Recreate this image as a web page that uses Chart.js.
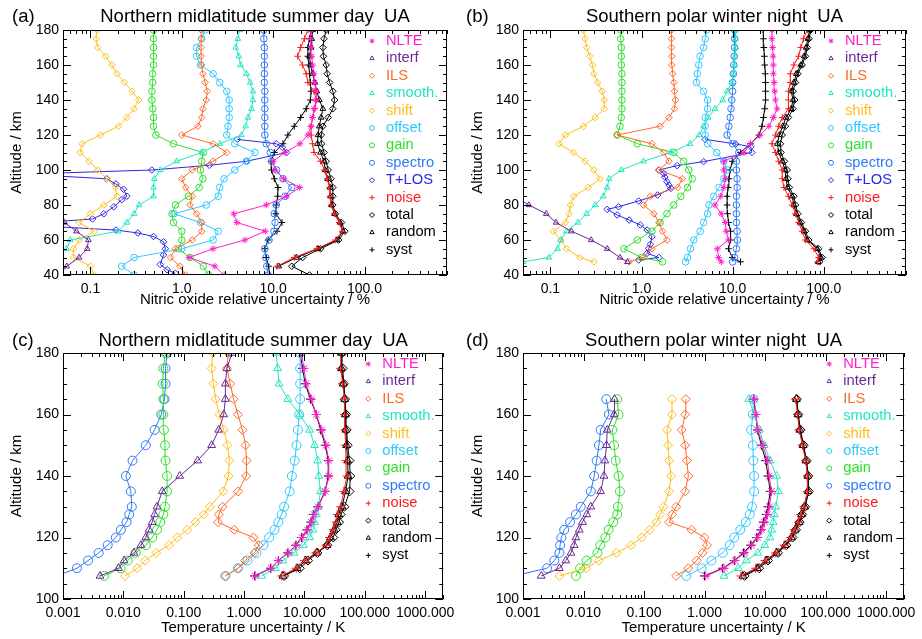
<!DOCTYPE html>
<html>
<head>
<meta charset="utf-8">
<script src="https://cdn.jsdelivr.net/npm/chart.js@4.4.0/dist/chart.umd.min.js"></script>
<style>
  body { margin: 0; background: #fff; width: 922px; height: 639px; overflow: hidden; position: relative; }
  canvas { position: absolute; }
</style>
</head>
<body>
<canvas id="pa" width="461" height="320" style="left:0;top:0"></canvas>
<canvas id="pb" width="461" height="320" style="left:461px;top:0"></canvas>
<canvas id="pc" width="461" height="319" style="left:0;top:320px"></canvas>
<canvas id="pd" width="461" height="319" style="left:461px;top:320px"></canvas>
<script>
// ---- data ----
// NO panels: altitude grid in km
const altA = [40,45,50,55,60,65,70,75,80,85,90,95,100,105,110,115,120,125,130,135,140,145,150,155,160,165,170,175,180];
const altB = [47.5,50,55,60,65,70,75,80,85,90,95,100,105,110,115,120,125,130,135,140,145,150,155,160,165,170,175,180];
// T+LOS has its own (finer) altitude points
const altTlosA = [41,43,46,51.5,55,59,62,64,65.7,68,70,72,75,79,83,85,89,92,95,97,98,100,102.7,105,110,113,115,117.5];
const altTlosB = [48.6,50,52.4,55.2,57.5,61.9,65.7,68.6,71.4,74.3,77.5,79,82.3,85.7,89.5,91.4,93.3,96,98,100,102.5,104.8,110,113.3,114.9,117.5];
// temperature panels
const altC = [107.5,110,112.5,115,117.5,120,122.5,125,127.5,130,135,140,145,150,155,160,165,170,175,180];
const altD = [107.5,110,112.5,115,117.5,120,122.5,125,127.5,130,135,140,145,150,155,160,165];

// (a) Northern midlatitude summer day, NO relative uncertainty (%)
const nlteA    = [2.9,2.3,1.2,2.2,4.9,8.2,4.0,3.7,8.4,14,19.5,13,10.5,10,13.4,19.6,24,26,27,28,29.5,29.6,28.5,28,27,26.5,26,25.5,26];
const interfA  = [0.045,0.055,0.075,0.092,0.095,0.07,0.052,0.02,0.02,0.02,0.02,0.02,0.02,0.02,0.02,0.02,0.02,0.02,0.02,0.02,0.02,0.02,0.02,0.02,0.02,0.02,0.02,0.02,0.02];
const ilsA     = [1.1,0.95,0.75,0.85,1.3,1.65,1.65,1.45,1.23,1.3,1.1,1.0,1.3,2.2,3.1,2.2,1.0,1.5,1.65,1.7,1.85,1.9,1.8,1.7,1.65,1.63,1.62,1.63,1.63];
const smoothA  = [0.04,0.04,0.04,0.055,0.06,0.2,0.25,0.3,0.34,0.49,0.49,0.5,0.58,0.88,1.65,2.6,4.5,5.0,5.3,5.8,6.0,6.0,5.6,5.1,4.4,4.2,3.9,4.1,4.3];
const shiftA   = [0.11,0.1,0.065,0.065,0.075,0.11,0.075,0.1,0.14,0.195,0.187,0.152,0.12,0.096,0.077,0.081,0.128,0.203,0.25,0.3,0.337,0.285,0.235,0.195,0.172,0.146,0.12,0.115,0.118];
const offsetA  = [0.3,0.22,0.3,1.0,2.2,2.5,1.6,0.82,1.85,2.5,2.6,2.9,3.8,5.1,6.3,3.8,3.1,3.2,3.3,3.3,3.3,3.1,2.6,2.2,1.6,1.45,1.45,1.65,1.8];
const gainA    = [1.95,1.72,1.23,0.92,1.0,1.0,0.81,0.78,0.85,1.18,1.55,1.7,1.6,1.65,1.72,0.81,0.52,0.49,0.49,0.48,0.47,0.47,0.48,0.48,0.49,0.49,0.49,0.49,0.49];
const spectroA = [8.8,8.5,8.3,8.1,9.0,10.2,10.5,10.3,10.8,13.5,16,12.8,10.9,9.6,9.3,8.4,8.1,8.1,8.1,8.1,8.1,8.1,8.0,8.0,8.0,8.0,8.0,7.9,7.9];
const tlosA    = [0.85,0.69,0.58,0.63,0.66,0.63,0.49,0.33,0.19,0.03,0.03,0.105,0.14,0.18,0.22,0.25,0.23,0.19,0.15,0.03,0.03,0.47,2.0,5.1,14,12.6,10.8,4.05];
const noiseA   = [null,11,17,30,48,57,53,47,43,42,41.5,39,36.6,33,28,27,26,26,27,28.5,29.7,28,24,23,21,18.5,20,22,24];
const totalA   = [25,16,21,33,52,61,56,48,45,45,45,43,40,38,36,34,33.6,35,40,45,47,45,41.5,39,38,35.5,35,36,38];
const randomA  = [null,11.5,18,31,50,58,54,47,43.5,42.5,42,39.5,37,36,33,30.5,31,32,33.5,35,32,30,28.5,27,25.6,25,26,26.5,27];
const systA    = [9.2,8.9,8.4,8.1,8.8,11,12.5,10.7,10.8,11.2,11.3,10.3,9.6,9.5,10.3,12.8,14.5,17,20,23,25.6,26,25.5,25,24.5,24,24,25,26];

// (b) Southern polar winter night, NO relative uncertainty (%)
const nlteB    = [7.5,7.0,6.8,9.0,8.5,8.3,7.5,6.4,7.4,8.0,8.3,8.0,8.0,13.3,15.7,20,25,28,30.8,29.5,29,28.5,28,28,27.8,27.5,27,27];
const interfB  = [0.7,0.58,0.42,0.28,0.17,0.115,0.09,0.058,0.04,0.02,0.02,0.02,0.02,0.02,0.02,0.02,0.02,0.02,0.02,0.02,0.02,0.02,0.02,0.02,0.02,0.02,0.02,0.02];
const ilsB     = [0.73,1.05,1.3,1.9,1.7,1.55,1.37,1.05,1.25,2.5,2.8,1.55,2.0,1.75,1.3,0.54,1.6,2.0,2.3,2.36,2.3,2.26,2.2,2.15,2.15,2.13,2.13,2.13];
const smoothB  = [0.05,0.096,0.12,0.13,0.15,0.2,0.25,0.31,0.38,0.42,0.44,0.6,1.05,2.1,3.4,4.3,4.8,5.4,6.4,7.8,8.7,9.8,10.2,10.5,10.6,10.8,10.8,10.7];
const shiftB   = [0.3,0.21,0.15,0.13,0.108,0.146,0.16,0.166,0.18,0.26,0.35,0.3,0.24,0.18,0.124,0.146,0.23,0.31,0.39,0.39,0.37,0.33,0.3,0.29,0.27,0.25,0.24,0.23];
const offsetB  = [3.05,3.2,3.45,3.75,4.4,4.8,5.3,5.5,6.2,7.1,8.0,8.7,8.0,6.7,5.3,5.0,5.0,5.0,5.3,5.3,4.8,4.0,4.1,4.25,4.4,4.8,5.0,5.2];
const gainB    = [1.7,1.0,0.64,0.9,1.3,1.6,1.9,2.26,2.7,3.2,3.6,3.3,2.9,2.26,0.9,0.54,0.58,0.6,0.61,0.61,0.61,0.61,0.61,0.6,0.6,0.6,0.59,0.59];
const spectroB = [10,10.5,11,11.3,11.2,11,11,11,11,11.2,11.2,11,11,11.7,10,8.7,9.1,9.4,9.6,9.8,10,10,10.2,10.3,10.4,10.5,10.5,10.5];
const tlosB    = [0.93,1.55,1.15,1.2,1.25,1.3,1.15,0.97,0.73,0.54,0.42,0.56,0.93,1.5,2.1,2.0,1.9,1.8,1.76,1.55,2.46,4.8,16.3,15.8,10.8,5.0];
const noiseB   = [85,88,78,63,58,53,49,45,41,36.6,35,35,32,29.5,27,29.5,32,35,41,41,41,43,43,47,53,56,60,66];
const totalB   = [90,96,88,68.5,63,57,52,49,47,42,40.5,39.8,37,34,33.5,35,38,41,46,48,46,49,52,58,63,66,69,72];
const randomB  = [87,93,85,66,61,55,50,47,45,40,38.5,37.5,35,32,31,32.5,35.5,38.5,44,46,44,47,50,56,61,64,67,70];
const systB    = [12.2,9.9,9.0,9.5,9.5,9.0,8.8,8.7,8.7,8.9,9.1,9.4,9.9,12.2,15.7,19.5,21,21.8,22.5,23,23,23,22.8,22.5,22.3,22,21.8,21.6];

// (c) Northern midlatitude summer day, temperature uncertainty (K)
const nlteC    = [1.53,2.8,3.7,5.4,7.3,9.2,11.2,13,14.4,17,22.2,25.3,25.3,22.8,19.3,15.7,13,10.7,9.8,8.9];
const interfC  = [0.0041,0.0083,0.0103,0.015,0.0195,0.0235,0.0266,0.03,0.033,0.036,0.044,0.086,0.17,0.29,0.38,0.46,0.49,0.49,0.52,0.63];
const ilsC     = [0.49,0.8,1.04,1.48,1.75,1.43,0.69,0.37,0.38,0.44,0.8,1.08,1.1,1.06,0.94,0.79,0.67,0.59,0.52,0.55];
const smoothC  = [1.95,3.3,4.4,6.7,9.6,12.2,13.8,14.7,15.8,17.0,18.4,17.3,16.6,14.7,12.2,8.4,5.3,3.8,3.6,3.4];
const shiftC   = [0.0107,0.017,0.023,0.035,0.057,0.078,0.114,0.157,0.215,0.27,0.45,0.55,0.57,0.53,0.46,0.39,0.34,0.31,0.29,0.30];
const offsetC  = [0.49,0.79,1.14,1.6,2.1,2.6,3.2,3.7,4.2,4.6,5.7,6.2,6.9,7.4,7.8,8.2,8.5,8.5,8.5,8.5];
const gainC    = [0.0048,0.009,0.0118,0.016,0.0235,0.03,0.036,0.041,0.046,0.049,0.053,0.053,0.05,0.049,0.047,0.046,0.046,0.045,0.046,0.05];
const spectroC = [0.00078,0.0017,0.0026,0.0039,0.0055,0.0075,0.0091,0.0113,0.0125,0.0138,0.0133,0.011,0.0142,0.0235,0.033,0.0425,0.048,0.05,0.05,0.053];
const noiseC   = [4.2,7.3,10,15.6,23,26,30,33.5,35,40,45,50.7,49,48,47,46,46,43,40,40];
const totalC   = [4.6,8.4,11.5,16.4,24,30,33,37.5,40,46,56,57.5,55.7,52,50,49,47,45,43,42];
const randomC  = [4.4,7.6,10.5,16,23.5,27,31,35,37,42,48,53,52,50,48.5,47.5,46.5,44,41,41];
const systC    = [1.5,2.75,3.7,5.3,7.2,9.0,11,12.8,14,16.6,22,24.8,24.8,22.2,18.6,15.7,12.6,10.3,9.3,8.5];

// (d) Southern polar winter night, temperature uncertainty (K)
const nlteD    = [1.05,2.1,3.2,4.6,6.0,7.6,8.8,9.8,11,11.8,12.8,11.7,11,9.2,7.6,7.1,6.6];
const interfD  = [0.002,0.004,0.0051,0.0062,0.007,0.0075,0.0085,0.0096,0.0113,0.0132,0.0192,0.0218,0.0226,0.024,0.0247,0.032,0.0325];
const ilsD     = [0.34,0.54,0.74,0.93,1.1,1.0,0.61,0.26,0.29,0.34,0.48,0.54,0.51,0.48,0.42,0.48,0.49];
const smoothD  = [2.1,3.6,4.9,7.6,9.9,12.1,12.9,13.6,14.2,15,16.7,15.5,12.1,9.7,8.1,6.6,5.4];
const shiftD   = [0.004,0.011,0.018,0.035,0.061,0.092,0.124,0.16,0.185,0.21,0.26,0.28,0.26,0.25,0.24,0.29,0.29];
const offsetD  = [0.5,0.9,1.3,2.0,2.6,3.1,3.9,4.8,5.6,6.1,6.6,6.6,6.4,6.3,5.9,6.3,6.4];
const gainD    = [0.0075,0.0088,0.0113,0.017,0.019,0.023,0.026,0.031,0.036,0.037,0.04,0.038,0.034,0.032,0.03,0.038,0.036];
const spectroD = [0.0007,0.0025,0.0033,0.004,0.0041,0.0043,0.0048,0.006,0.0075,0.009,0.0132,0.015,0.0165,0.018,0.0192,0.0263,0.0238];
const noiseD   = [4.0,7.0,10,15,20.6,26.6,30.5,35.5,39,44,50,50,47,41.5,36.6,34.5,32];
const totalD   = [4.6,8.0,11.2,16.4,22.5,28.5,32.5,37.5,41,46,53,52,48.5,43.5,38.5,35.5,33.5];
const randomD  = [4.3,7.5,10.5,15.5,21.5,27.5,31.5,36.5,40,45,51.5,51,47.5,42.5,37.5,35,33];
const systD    = [1.0,2.0,3.1,4.4,5.8,7.3,8.5,9.4,10.5,11.2,12.2,11.2,10.3,8.7,7.5,7.0,6.5];

// tick labels
const noTicks = [0.1, 1, 10, 100];
const noTickLabels = ['0.1', '1.0', '10.0', '100.0'];
const tTicks = [0.001, 0.01, 0.1, 1, 10, 100, 1000];
const tTickLabels = ['0.001', '0.010', '0.100', '1.000', '10.000', '100.000', '1000.000'];

// series names / styles (legend order)
const names   = ['NLTE','interf','ILS','smooth.','shift','offset','gain','spectro','T+LOS','noise','total','random','syst'];
const colors  = ['#ff1ecb','#6a2896','#ff6a26','#22e6be','#ffbd1c','#30c8ff','#2ee02e','#2f7af7','#2b28e6','#ff1a1a','#000000','#000000','#000000'];
const markers = ['star','triangle','rectRot','triangle','rectRot','circle','circle','circle','rectRot','cross','rectRot','triangle','cross'];

const FONT = '"Liberation Sans", Arial, Helvetica, sans-serif';
Chart.defaults.font.family = FONT;
Chart.defaults.color = '#000';

const panels = [
  { id: 'pa', tag: '(a)', tagX: 12, titleY: 21.7, title: 'Northern midlatitude summer day  UA',
    alt: altA, altOverride: { 8: altTlosA },
    series: [nlteA, interfA, ilsA, smoothA, shiftA, offsetA, gainA, spectroA, tlosA, noiseA, totalA, randomA, systA],
    xMin: 0.05, xMax: 800, ticks: noTicks, labels: noTickLabels, xTitle: 'Nitric oxide relative uncertainty / %',
    yMin: 40, yMax: 180, top: 30, right: 14, yW: 63, xH: 45, xTitlePad: 11, r: 3.3 },
  { id: 'pb', tag: '(b)', tagX: 5, titleY: 21.7, title: 'Southern polar winter night  UA',
    alt: altB, altOverride: { 8: altTlosB },
    series: [nlteB, interfB, ilsB, smoothB, shiftB, offsetB, gainB, spectroB, tlosB, noiseB, totalB, randomB, systB],
    xMin: 0.05, xMax: 800, ticks: noTicks, labels: noTickLabels, xTitle: 'Nitric oxide relative uncertainty / %',
    yMin: 40, yMax: 180, top: 30, right: 16, yW: 62, xH: 45, xTitlePad: 11, r: 3.3 },
  { id: 'pc', tag: '(c)', tagX: 12, titleY: 26, title: 'Northern midlatitude summer day  UA',
    alt: altC, altOverride: {},
    series: [nlteC, interfC, ilsC, smoothC, shiftC, offsetC, gainC, spectroC, null, noiseC, totalC, randomC, systC],
    xMin: 0.001, xMax: 2000, ticks: tTicks, labels: tTickLabels, xTitle: 'Temperature uncertainty / K',
    yMin: 100, yMax: 180, top: 33, right: 14, yW: 63, xH: 40, xTitlePad: 2, r: 4.5 },
  { id: 'pd', tag: '(d)', tagX: 5, titleY: 26, title: 'Southern polar winter night  UA',
    alt: altD, altOverride: {},
    series: [nlteD, interfD, ilsD, smoothD, shiftD, offsetD, gainD, spectroD, null, noiseD, totalD, randomD, systD],
    xMin: 0.001, xMax: 2000, ticks: tTicks, labels: tTickLabels, xTitle: 'Temperature uncertainty / K',
    yMin: 100, yMax: 180, top: 33, right: 16, yW: 62, xH: 40, xTitlePad: 2, r: 4.5 }
];

// frame with inward ticks, panel title and the in-plot legend
function makeFrame(p) {
  return {
    id: 'frame',
    afterDraw(chart) {
      const { ctx, chartArea: a, scales: { x, y } } = chart;
      ctx.save();
      ctx.strokeStyle = '#000';
      ctx.lineWidth = 1;
      ctx.beginPath();
      ctx.rect(Math.round(a.left) + 0.5, Math.round(a.top) + 0.5, Math.round(a.right - a.left) - 1, Math.round(a.bottom - a.top) - 1);
      for (let v = p.yMin; v <= p.yMax; v += 5) {
        const py = Math.round(y.getPixelForValue(v)) + 0.5;
        const len = v % 20 === 0 ? 8 : 4;
        ctx.moveTo(a.left, py); ctx.lineTo(a.left + len, py);
        ctx.moveTo(a.right, py); ctx.lineTo(a.right - len, py);
      }
      const e0 = Math.floor(Math.log10(p.xMin)), e1 = Math.ceil(Math.log10(p.xMax));
      for (let e = e0; e <= e1; e++) {
        for (let m = 1; m <= 9; m++) {
          const v = m * Math.pow(10, e);
          if (v < p.xMin * 0.999 || v > p.xMax * 1.001) continue;
          const px = Math.round(x.getPixelForValue(v)) + 0.5;
          const len = m === 1 ? 8 : 4;
          ctx.moveTo(px, a.bottom); ctx.lineTo(px, a.bottom - len);
          ctx.moveTo(px, a.top); ctx.lineTo(px, a.top + len);
        }
      }
      ctx.stroke();

      // panel tag + title
      ctx.fillStyle = '#000';
      ctx.font = '18.5px ' + FONT;
      ctx.textBaseline = 'alphabetic';
      ctx.textAlign = 'left';
      ctx.fillText(p.tag, p.tagX, p.titleY);
      ctx.textAlign = 'center';
      ctx.fillText(p.title, (a.left + a.right) / 2, p.titleY);

      // legend
      ctx.font = '14.7px ' + FONT;
      ctx.textAlign = 'left';
      ctx.textBaseline = 'middle';
      let row = 0;
      p.series.forEach((vals, k) => {
        if (!vals) return;
        const ly = a.top + 11 + row * 17.4;
        row++;
        ctx.strokeStyle = colors[k];
        ctx.fillStyle = 'rgba(0,0,0,0)';
        ctx.lineWidth = 1;
        if (Chart.helpers && Chart.helpers.drawPoint) {
          Chart.helpers.drawPoint(ctx, { pointStyle: markers[k], radius: 2.5, borderWidth: 1, rotation: 0 }, a.right - 75, ly);
        }
        ctx.fillStyle = colors[k];
        ctx.fillText(names[k], a.right - 61, ly);
      });
      ctx.restore();
    }
  };
}

panels.forEach(p => {
  const datasets = [];
  p.series.forEach((vals, k) => {
    if (!vals) return;
    const alts = p.altOverride[k] || p.alt;
    datasets.push({
      label: names[k],
      data: alts.map((h, i) => ({ x: vals[i], y: h })).filter(d => d.x !== null),
      showLine: true,
      borderColor: colors[k],
      borderWidth: 1,
      pointStyle: markers[k],
      pointRadius: p.r,
      pointHoverRadius: p.r,
      pointBorderColor: colors[k],
      pointBackgroundColor: 'rgba(0,0,0,0)',
      pointBorderWidth: 1
    });
  });

  new Chart(document.getElementById(p.id), {
    type: 'scatter',
    data: { datasets },
    options: {
      responsive: false,
      animation: false,
      events: [],
      layout: { padding: { top: p.top, right: p.right, left: 0, bottom: 0 } },
      plugins: { legend: { display: false }, tooltip: { enabled: false } },
      scales: {
        x: {
          type: 'logarithmic',
          bounds: 'data',
          min: p.xMin,
          max: p.xMax,
          grid: { display: false, drawTicks: false },
          border: { display: false },
          afterBuildTicks: s => { s.ticks = p.ticks.map(v => ({ value: v })); },
          ticks: { autoSkip: false, maxRotation: 0, padding: 6, color: '#000', font: { size: 14 },
                   callback: (v, i) => p.labels[i] },
          title: { display: true, text: p.xTitle, color: '#000', font: { size: 15 }, padding: { top: 0, bottom: p.xTitlePad } },
          afterFit: s => { s.height = p.xH; }
        },
        y: {
          min: p.yMin,
          max: p.yMax,
          grid: { display: false, drawTicks: false },
          border: { display: false },
          ticks: { stepSize: 20, padding: 4, color: '#000', font: { size: 14 } },
          title: { display: true, text: 'Altitude / km', color: '#000', font: { size: 15 }, padding: { top: 8, bottom: 0 } },
          afterFit: s => { s.width = p.yW; }
        }
      }
    },
    plugins: [makeFrame(p)]
  });
});
</script>
</body>
</html>
